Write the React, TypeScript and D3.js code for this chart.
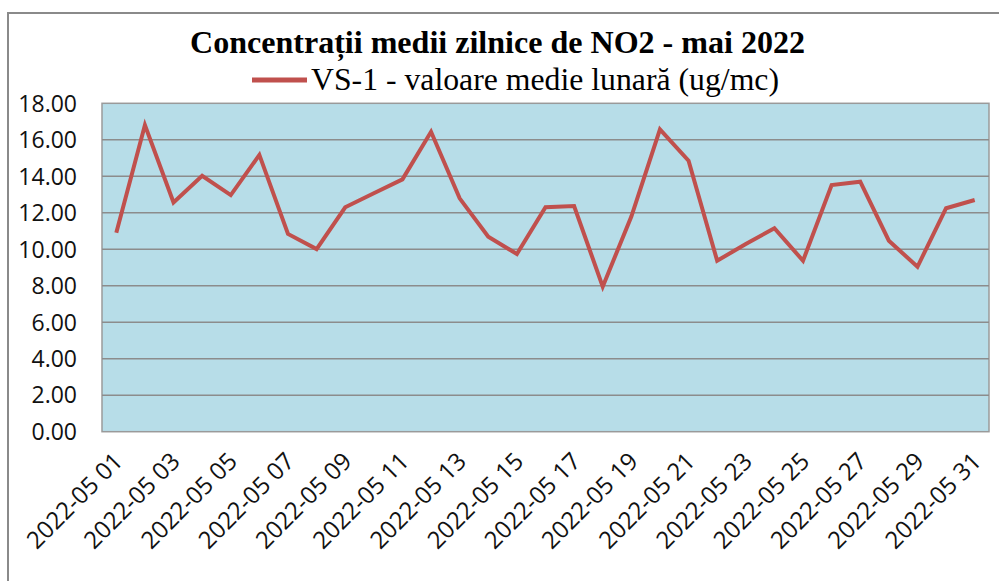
import React, { useEffect, useRef } from "react";
import * as d3 from "d3";

const days = d3.range(1, 32).map((d) => `2022-05 ${String(d).padStart(2, "0")}`);

const no2Values = [
  10.91, 16.81, 12.57, 14.03, 12.97, 15.17, 10.84, 10.01, 12.3, 13.07, 13.83,
  16.44, 12.79, 10.69, 9.74, 12.3, 12.37, 7.95, 11.79, 16.57, 14.85, 9.37,
  10.29, 11.15, 9.37, 13.52, 13.7, 10.47, 9.04, 12.25, 12.7,
];

const yTicks = [0, 2, 4, 6, 8, 10, 12, 14, 16, 18];

const chartTitle = "Concentrații  medii zilnice de NO2 - mai 2022";
const seriesName = "VS-1 - valoare medie lunară (ug/mc)";

const W = 999;
const H = 581;
const plot = { left: 102, top: 103.3, right: 989, bottom: 431.7 };

export default function App() {
  const svgRef = useRef<SVGSVGElement | null>(null);

  useEffect(() => {
    const svg = d3.select(svgRef.current);
    svg.selectAll("*").remove();

    // outer chart frame (runs off the right and bottom edges)
    svg
      .append("rect")
      .attr("x", 8)
      .attr("y", 13)
      .attr("width", 1020)
      .attr("height", 620)
      .attr("fill", "#fff")
      .attr("stroke", "#8a8a8a")
      .attr("stroke-width", 2);

    const x = d3
      .scaleBand<string>()
      .domain(days)
      .range([plot.left, plot.right]);
    const y = d3.scaleLinear().domain([0, 18]).range([plot.bottom, plot.top]);

    // plot area
    svg
      .append("rect")
      .attr("x", plot.left)
      .attr("y", plot.top)
      .attr("width", plot.right - plot.left)
      .attr("height", plot.bottom - plot.top)
      .attr("fill", "#b7dde8")
      .attr("stroke", "#9a9a9a")
      .attr("stroke-width", 1.5);

    // gridlines
    svg
      .append("g")
      .selectAll("line")
      .data(yTicks.filter((t) => t > 0 && t < 18))
      .join("line")
      .attr("x1", plot.left)
      .attr("x2", plot.right)
      .attr("y1", (d) => y(d))
      .attr("y2", (d) => y(d))
      .attr("stroke", "#8c8c8c")
      .attr("stroke-width", 1.5);

    // y labels
    svg
      .append("g")
      .selectAll("text")
      .data(yTicks)
      .join("text")
      .attr("x", 77)
      .attr("y", (d) => y(d))
      .attr("dy", "0.36em")
      .attr("text-anchor", "end")
      .attr("font-family", "'Open Sans', sans-serif")
      .attr("font-size", 23)
      .attr("fill", "#111")
      .text((d) => d.toFixed(2));

    // x labels (every other day)
    const half = x.bandwidth() / 2;
    svg
      .append("g")
      .selectAll("text")
      .data(days.filter((_, i) => i % 2 === 0))
      .join("text")
      .attr("transform", (d) => `translate(${x(d)! + half + 8},${plot.bottom + 31}) rotate(-45)`)
      .attr("text-anchor", "end")
      .attr("font-family", "'Open Sans', sans-serif")
      .attr("font-size", 24)
      .attr("fill", "#111")
      .text((d) => d);

    // series line
    const line = d3
      .line<number>()
      .x((_, i) => x(days[i])! + half)
      .y((d) => y(d));
    svg
      .append("path")
      .datum(no2Values)
      .attr("d", line)
      .attr("fill", "none")
      .attr("stroke", "#c0504d")
      .attr("stroke-width", 4)
      .attr("stroke-linejoin", "miter");

    // title
    svg
      .append("text")
      .attr("x", 190)
      .attr("y", 53)
      .attr("font-family", "'Liberation Serif', 'Times New Roman', serif")
      .attr("font-weight", "bold")
      .attr("font-size", 31)
      .attr("textLength", 615)
      .attr("lengthAdjust", "spacingAndGlyphs")
      .attr("fill", "#000")
      .text(chartTitle);

    // legend
    svg
      .append("line")
      .attr("x1", 252)
      .attr("x2", 307)
      .attr("y1", 80)
      .attr("y2", 80)
      .attr("stroke", "#c0504d")
      .attr("stroke-width", 5);
    svg
      .append("text")
      .attr("x", 311)
      .attr("y", 90)
      .attr("font-family", "'Liberation Serif', 'Times New Roman', serif")
      .attr("font-size", 31)
      .attr("textLength", 468)
      .attr("lengthAdjust", "spacingAndGlyphs")
      .attr("fill", "#000")
      .text(seriesName);
  }, []);

  return (
    <svg
      ref={svgRef}
      width={W}
      height={H}
      style={{ position: "absolute", left: 0, top: 0, background: "#fff" }}
    />
  );
}
